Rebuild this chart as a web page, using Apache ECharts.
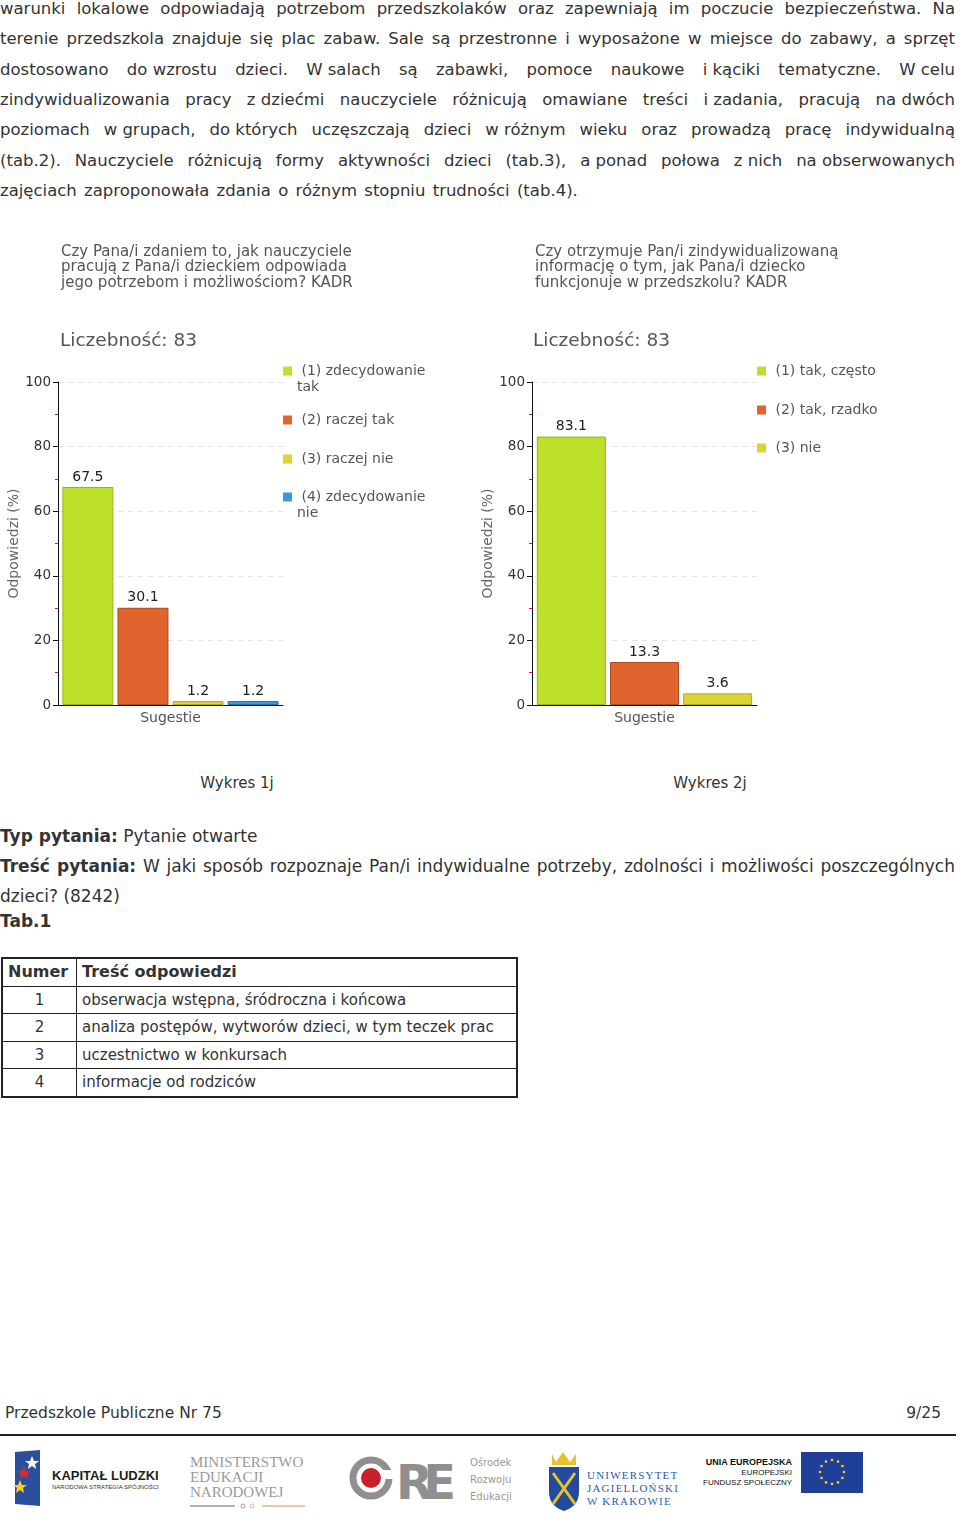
<!DOCTYPE html>
<html><head><meta charset="utf-8">
<script src="https://cdn.jsdelivr.net/npm/echarts@6/dist/echarts.min.js"></script>
<style>
html,body{margin:0;padding:0;background:#fff;}
body{width:960px;height:1523px;position:relative;overflow:hidden;font-family:"DejaVu Sans",Verdana,sans-serif;color:#333;}
.abs{position:absolute;}
.para{left:0;top:-6px;width:955px;font-size:16.5px;line-height:30.33px;}
.jl{text-align:justify;text-align-last:justify;height:30.33px;}
.t{display:inline-block;}
.cap{font-size:15px;width:200px;text-align:center;top:774px;}
.q{left:0;width:955px;font-size:17px;line-height:30px;}
table{border-collapse:collapse;font-size:15px;color:#333;}
td,th{border:1px solid #222;padding:0 5px;height:26.5px;line-height:26px;}
th{text-align:left;font-weight:bold;font-size:16px;}
</style>
</head><body>
<div class="abs para">
<div class="jl">warunki lokalowe odpowiadają potrzebom przedszkolaków oraz zapewniają im poczucie bezpieczeństwa. Na</div>
<div class="jl">terenie przedszkola znajduje się plac zabaw. Sale są przestronne i wyposażone w miejsce do zabawy, a sprzęt</div>
<div class="jl">dostosowano <span class="t">do wzrostu</span> dzieci. <span class="t">W salach</span> są zabawki, pomoce naukowe <span class="t">i kąciki</span> tematyczne. <span class="t">W celu</span></div>
<div class="jl">zindywidualizowania pracy <span class="t">z dziećmi</span> nauczyciele różnicują omawiane treści <span class="t">i zadania,</span> pracują <span class="t">na dwóch</span></div>
<div class="jl">poziomach <span class="t">w grupach,</span> <span class="t">do których</span> uczęszczają dzieci <span class="t">w różnym</span> wieku oraz prowadzą pracę indywidualną</div>
<div class="jl">(tab.2). Nauczyciele różnicują formy aktywności dzieci (tab.3), <span class="t">a ponad</span> połowa <span class="t">z nich</span> <span class="t">na obserwowanych</span></div>
<div style="height:30.33px;word-spacing:2px;">zajęciach zaproponowała zdania o różnym stopniu trudności (tab.4).</div>
</div>

<div id="c1" class="abs" style="left:0;top:230px;width:480px;height:500px;"></div>
<div id="c2" class="abs" style="left:480px;top:230px;width:480px;height:500px;"></div>

<div class="abs cap" style="left:137px;">Wykres 1j</div>
<div class="abs cap" style="left:610px;">Wykres 2j</div>

<div class="abs q" style="top:821px;"><b>Typ pytania:</b> Pytanie otwarte</div>
<div class="abs q jl" style="top:851px;"><b>Treść pytania:</b> W jaki sposób rozpoznaje Pan/i indywidualne potrzeby, zdolności i możliwości poszczególnych</div>
<div class="abs q" style="top:881px;">dzieci? (8242)</div>
<div class="abs q" style="top:906px;"><b>Tab.1</b></div>

<table class="abs" style="left:1px;top:957px;width:517px;border:2px solid #222;">
<tr><th style="width:63px;padding-left:5px;">Numer</th><th>Treść odpowiedzi</th></tr>
<tr><td style="text-align:center">1</td><td>obserwacja wstępna, śródroczna i końcowa</td></tr>
<tr><td style="text-align:center">2</td><td>analiza postępów, wytworów dzieci, w tym teczek prac</td></tr>
<tr><td style="text-align:center">3</td><td>uczestnictwo w konkursach</td></tr>
<tr><td style="text-align:center">4</td><td>informacje od rodziców</td></tr>
</table>

<div class="abs" style="left:5px;top:1403px;font-size:15.5px;line-height:20px;color:#333;">Przedszkole Publiczne Nr 75</div>
<div class="abs" style="right:19px;top:1403px;font-size:15.5px;line-height:20px;color:#333;">9/25</div>
<div class="abs" style="left:0;top:1434px;width:956px;height:2px;background:#222;"></div>

<svg class="abs" style="left:0;top:1440px;" width="960" height="83" viewBox="0 0 960 83">
  <!-- Kapitał Ludzki -->
  <polygon points="15,12 40,10 40,66 15,64" fill="#2c4f9d"/>
  <polygon points="32,16 34,21 39,21 35,24 36,29 32,26 28,29 29,24 25,21 30,21" fill="#fff"/>
  <polygon points="24,26 26,31 31,31 27,34 28,39 24,36 20,39 21,34 17,31 22,31" fill="#d62b2b"/>
  <polygon points="20,40 22,45 27,45 23,48 24,53 20,50 16,53 17,48 13,45 18,45" fill="#f4d11e"/>
  <text x="52" y="40" font-family="Liberation Sans Narrow, Liberation Sans" font-weight="bold" font-size="13" fill="#1d1d1b">KAPITAŁ LUDZKI</text>
  <text x="52" y="49" font-family="Liberation Sans Narrow, Liberation Sans" font-size="6" fill="#333">NARODOWA STRATEGIA SPÓJNOŚCI</text>
  <!-- MEN -->
  <text x="190" y="27" font-family="Liberation Serif" font-size="15" fill="#9a9a9a">MINISTERSTWO</text>
  <text x="190" y="42" font-family="Liberation Serif" font-size="15" fill="#9a9a9a">EDUKACJI</text>
  <text x="190" y="57" font-family="Liberation Serif" font-size="15" fill="#9a9a9a">NARODOWEJ</text>
  <line x1="190" y1="66" x2="235" y2="66" stroke="#999" stroke-width="1.5"/>
  <line x1="262" y1="66" x2="305" y2="66" stroke="#e7b38a" stroke-width="1.5"/>
  <circle cx="243" cy="66" r="2" fill="none" stroke="#999" stroke-width="1"/>
  <circle cx="252" cy="66" r="2" fill="none" stroke="#e7b38a" stroke-width="1"/>
  <!-- ORE -->
  <circle cx="371" cy="38" r="18" fill="none" stroke="#8f8f8f" stroke-width="7"/>
  <rect x="383" y="30" width="14" height="9" fill="#fff"/>
  <circle cx="371" cy="38" r="10" fill="#c8202a"/>
  <text x="396" y="59" font-family="DejaVu Sans" font-weight="bold" font-size="48" fill="#8f8f8f" textLength="60">RE</text>
  <text x="470" y="26" font-family="DejaVu Sans" font-size="10" fill="#999">Ośrodek</text>
  <text x="470" y="43" font-family="DejaVu Sans" font-size="10" fill="#999">Rozwoju</text>
  <text x="470" y="60" font-family="DejaVu Sans" font-size="10" fill="#999">Edukacji</text>
  <!-- UJ -->
  <polygon points="552,14 556,22 563,12 570,22 576,14 576,25 552,25" fill="#e8c22a"/>
  <path d="M549,27 L579,27 L579,52 Q579,66 564,71 Q549,66 549,52 Z" fill="#234a9c"/>
  <line x1="553" y1="33" x2="575" y2="64" stroke="#e8c22a" stroke-width="3"/>
  <line x1="575" y1="33" x2="553" y2="64" stroke="#e8c22a" stroke-width="3"/>
  <text x="587" y="39" font-family="Liberation Serif" font-size="11" letter-spacing="1.2" fill="#2a5caa">UNIWERSYTET</text>
  <text x="587" y="52" font-family="Liberation Serif" font-size="11" letter-spacing="1.2" fill="#2a5caa">JAGIELLOŃSKI</text>
  <text x="587" y="65" font-family="Liberation Serif" font-size="11" letter-spacing="1.2" fill="#2a5caa">W KRAKOWIE</text>
  <!-- EU -->
  <text x="792" y="25" text-anchor="end" font-family="Liberation Sans Narrow, Liberation Sans" font-weight="bold" font-size="9" fill="#111">UNIA EUROPEJSKA</text>
  <text x="792" y="35" text-anchor="end" font-family="Liberation Sans Narrow, Liberation Sans" font-size="8" fill="#111">EUROPEJSKI</text>
  <text x="792" y="45" text-anchor="end" font-family="Liberation Sans Narrow, Liberation Sans" font-size="8" fill="#111">FUNDUSZ SPOŁECZNY</text>
  <rect x="801" y="12" width="62" height="41" fill="#1f3f99"/>
  <g fill="#f5d70e">
    <circle cx="832" cy="20" r="1.3"/><circle cx="838" cy="21.6" r="1.3"/><circle cx="842.4" cy="26" r="1.3"/>
    <circle cx="844" cy="32" r="1.3"/><circle cx="842.4" cy="38" r="1.3"/><circle cx="838" cy="42.4" r="1.3"/>
    <circle cx="832" cy="44" r="1.3"/><circle cx="826" cy="42.4" r="1.3"/><circle cx="821.6" cy="38" r="1.3"/>
    <circle cx="820" cy="32" r="1.3"/><circle cx="821.6" cy="26" r="1.3"/><circle cx="826" cy="21.6" r="1.3"/>
  </g>
</svg>

<script>
// ---- data ----
const categories = ['Sugestie'];
const yTicks = [0, 20, 40, 60, 80, 100];

const chart1Title = 'Czy Pana/i zdaniem to, jak nauczyciele\npracują z Pana/i dzieckiem odpowiada\njego potrzebom i możliwościom? KADR';
const chart1Count = 'Liczebność: 83';
const chart1Series = ['(1) zdecydowanie tak', '(2) raczej tak', '(3) raczej nie', '(4) zdecydowanie nie'];
const chart1Legend = ['(1) zdecydowanie\ntak', '(2) raczej tak', '(3) raczej nie', '(4) zdecydowanie\nnie'];
const chart1Values = [67.5, 30.1, 1.2, 1.2];

const chart2Title = 'Czy otrzymuje Pan/i zindywidualizowaną\ninformację o tym, jak Pana/i dziecko\nfunkcjonuje w przedszkolu? KADR';
const chart2Count = 'Liczebność: 83';
const chart2Series = ['(1) tak, często', '(2) tak, rzadko', '(3) nie'];
const chart2Legend = ['(1) tak, często', '(2) tak, rzadko', '(3) nie'];
const chart2Values = [83.1, 13.3, 3.6];

// ---- styles ----
const fills = ['#bde02b', '#e0642e', '#dcd335', '#3a9ae0'];
const borders = ['#93b51c', '#b04a1f', '#b3a91c', '#1e6fb5'];

function buildOption(cfg) {
  const legends = cfg.series.map((name, i) => {
    const text = cfg.legend[i];
    const twoLine = text.indexOf('\n') >= 0;
    const c = cfg.legendCenters[i];
    return {
      data: [name], left: cfg.legendLeft, top: twoLine ? c - 24 : c - 8,
      orient: 'vertical', padding: 0, icon: 'rect', itemWidth: 9, itemHeight: 9, itemGap: 0,
      itemStyle: { borderWidth: 0 },
      textStyle: { fontSize: 14, color: '#555', lineHeight: 16 },
      // blank first line keeps the symbol level with the first text line
      formatter: () => (twoLine ? '\n ' : ' ') + text,
      selectedMode: false
    };
  });
  return {
    animation: false,
    textStyle: { fontFamily: 'DejaVu Sans' },
    title: [
      { text: cfg.title, left: cfg.titleLeft, top: 14, padding: 0,
        textStyle: { fontSize: 15, lineHeight: 15.5, color: '#555', fontWeight: 'normal' } },
      { text: cfg.count, left: cfg.countLeft, top: 102, padding: 0,
        textStyle: { fontSize: 18.5, lineHeight: 18, color: '#555', fontWeight: 'normal' } }
    ],
    legend: legends,
    grid: { left: cfg.gridLeft, top: 152, width: 225, height: 323, containLabel: false },
    xAxis: {
      type: 'category', data: categories,
      axisLine: { lineStyle: { color: '#111' } },
      axisTick: { alignWithLabel: true, length: 5, lineStyle: { color: '#111' } },
      axisLabel: { fontSize: 14, color: '#555', margin: 6 }
    },
    yAxis: {
      type: 'value', min: yTicks[0], max: yTicks[yTicks.length - 1], interval: yTicks[1] - yTicks[0],
      name: 'Odpowiedzi (%)', nameLocation: 'middle', nameGap: 37,
      nameTextStyle: { fontSize: 14, color: '#666' },
      axisLine: { show: true, lineStyle: { color: '#111' } },
      axisTick: { show: true, length: 5, lineStyle: { color: '#111' } },
      minorTick: { show: true, splitNumber: 2, length: 3, lineStyle: { color: '#d22' } },
      axisLabel: { fontSize: 13.5, color: '#333', margin: 7 },
      splitLine: { lineStyle: { type: [5, 5], color: '#e2e2e2' } }
    },
    series: cfg.series.map((name, i) => ({
      type: 'bar', name: name, data: [cfg.values[i]],
      barWidth: cfg.barWidth, barGap: cfg.barGap,
      itemStyle: { color: fills[i], borderColor: borders[i], borderWidth: 1 },
      label: { show: true, position: 'top', distance: 3, fontSize: 14, color: '#222' }
    }))
  };
}

const c1 = echarts.init(document.getElementById('c1'), null, { renderer: 'canvas' });
c1.setOption(buildOption({
  title: chart1Title, count: chart1Count, series: chart1Series, legend: chart1Legend, values: chart1Values,
  titleLeft: 61, countLeft: 60, gridLeft: 58, legendLeft: 283, legendCenters: [141, 190, 229, 267],
  barWidth: 51, barGap: '8%'
}));
const c2 = echarts.init(document.getElementById('c2'), null, { renderer: 'canvas' });
c2.setOption(buildOption({
  title: chart2Title, count: chart2Count, series: chart2Series, legend: chart2Legend, values: chart2Values,
  titleLeft: 55, countLeft: 53, gridLeft: 52, legendLeft: 277, legendCenters: [141, 180, 218],
  barWidth: 69, barGap: '6%'
}));
</script>
</body></html>
